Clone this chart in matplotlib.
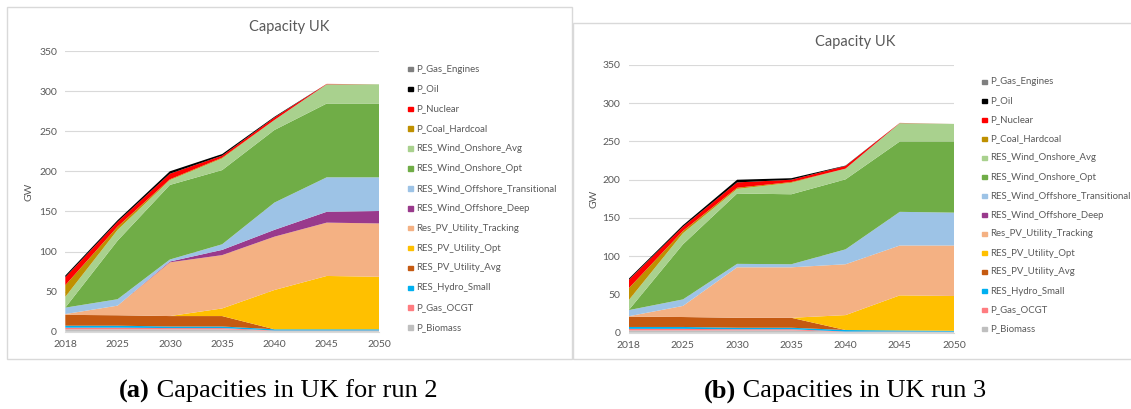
import numpy as np
import matplotlib
matplotlib.use('Agg')
import matplotlib.pyplot as plt
from matplotlib.patches import Rectangle

plt.rcParams['font.family'] = ['Lato', 'DejaVu Sans']

# =============================================================================
# Data (GW), stacked bottom -> top
# =============================================================================
years = ['2018', '2025', '2030', '2035', '2040', '2045', '2050']

names = ['P_Biomass', 'P_Gas_OCGT', 'RES_Hydro_Small', 'RES_PV_Utility_Avg',
         'RES_PV_Utility_Opt', 'Res_PV_Utility_Tracking', 'RES_Wind_Offshore_Deep',
         'RES_Wind_Offshore_Transitional', 'RES_Wind_Onshore_Opt',
         'RES_Wind_Onshore_Avg', 'P_Coal_Hardcoal', 'P_Nuclear', 'P_Oil',
         'P_Gas_Engines']
colors = ['#BFBFBF', '#FF7C80', '#00B0F0', '#C55A11', '#FFC000', '#F4B183',
          '#993A8C', '#9DC3E6', '#70AD47', '#A9D18E', '#BF9000', '#FF0000',
          '#000000', '#7F7F7F']

# run 2
r2_biomass   = [3, 3, 3, 3, 1, 1, 1]
r2_ocgt      = [2, 2, 1.5, 1.5, 0.5, 0.5, 0.5]
r2_hydro     = [2.5, 2.5, 2, 2, 1.5, 1.5, 1.5]
r2_pv_avg    = [13.5, 13, 13, 13, 0, 0, 0]
r2_pv_opt    = [0, 0, 0, 9.5, 49, 66.5, 65.5]
r2_pv_track  = [1, 12, 67, 66.5, 66.5, 66.5, 66.5]
r2_off_deep  = [0, 0, 1, 6.5, 8.5, 13.5, 15.5]
r2_off_trans = [8, 8, 2.5, 7, 34, 43, 42]
r2_on_opt    = [0, 73, 93, 92.5, 90.5, 92, 92]
r2_on_avg    = [13.5, 13.5, 6, 14.5, 12.5, 24, 24]
r2_coal      = [14.5, 4, 1, 1, 0, 0, 0]
r2_nuclear   = [10, 6, 7, 2.5, 3, 0.5, 0]
r2_oil       = [2, 2, 3, 2, 1, 0, 0]
r2_gas_eng   = [0, 0, 0, 0, 0, 0, 0]

# run 3
r3_biomass   = [3, 3, 3, 3, 1, 1, 1]
r3_ocgt      = [2, 2, 1.5, 1.5, 0.5, 0.5, 0.3]
r3_hydro     = [2.5, 2.5, 2, 2, 2, 1.5, 1.2]
r3_pv_avg    = [13.5, 13, 13, 13, 0, 0, 0]
r3_pv_opt    = [0, 0, 0, 0, 19.5, 45.8, 45.5]
r3_pv_track  = [0.5, 14.5, 66, 66, 66.5, 65.2, 66]
r3_off_deep  = [0, 0, 0, 0, 0, 0, 0]
r3_off_trans = [8, 8.5, 4.5, 4, 19.5, 44, 43]
r3_on_opt    = [0, 72, 92, 91.5, 91.5, 92, 93]
r3_on_avg    = [13, 14.5, 6, 15, 14, 24, 23]
r3_coal      = [15.5, 3, 1.5, 1, 0, 0, 0]
r3_nuclear   = [11, 5.5, 7, 3, 3.5, 0.3, 0]
r3_oil       = [1.5, 2, 3.5, 2, 0.5, 0, 0]
r3_gas_eng   = [0, 0, 0, 0, 0, 0, 0]

run2 = [r2_biomass, r2_ocgt, r2_hydro, r2_pv_avg, r2_pv_opt, r2_pv_track,
        r2_off_deep, r2_off_trans, r2_on_opt, r2_on_avg, r2_coal, r2_nuclear,
        r2_oil, r2_gas_eng]
run3 = [r3_biomass, r3_ocgt, r3_hydro, r3_pv_avg, r3_pv_opt, r3_pv_track,
        r3_off_deep, r3_off_trans, r3_on_opt, r3_on_avg, r3_coal, r3_nuclear,
        r3_oil, r3_gas_eng]

TXT = '#595959'
W, H = 1131, 409


def px(x, y):
    """pixel (top-left origin) -> figure fraction"""
    return x / W, 1 - y / H


def draw_panel(fig, rect, series, title_xy, gw_xy, leg_x, leg_y0, leg_dy):
    ax = fig.add_axes(rect)
    x = np.arange(len(years))
    ax.stackplot(x, *series, colors=colors, linewidth=0)
    ax.set_xlim(0, len(years) - 1)
    ax.set_ylim(0, 350)
    ax.set_yticks(range(0, 351, 50))
    ax.set_xticks(x)
    ax.set_xticklabels(years)
    ax.grid(axis='y', color='#D9D9D9', linewidth=0.8)
    ax.set_axisbelow(True)
    for s in ['top', 'right', 'left']:
        ax.spines[s].set_visible(False)
    ax.spines['bottom'].set_color('#D9D9D9')
    ax.tick_params(length=0, labelsize=7.5, colors=TXT, pad=6)
    ax.patch.set_alpha(0)
    fig.text(*px(*title_xy), 'Capacity UK', ha='center', va='center',
             fontsize=10.5, color=TXT)
    fig.text(*px(*gw_xy), 'GW', ha='center', va='center', rotation=90,
             fontsize=7.5, color=TXT)
    # legend, top entry = top of stack
    for i, k in enumerate(range(len(names) - 1, -1, -1)):
        yy = leg_y0 + i * leg_dy
        fx, fy = px(leg_x, yy + 2.3)
        fig.patches.append(Rectangle((fx, fy), 4.6 / W, 4.6 / H, color=colors[k],
                                     transform=fig.transFigure, figure=fig))
        fig.text(*px(leg_x + 8, yy), names[k], ha='left', va='center',
                 fontsize=6.9, color=TXT)
    return ax


fig = plt.figure(figsize=(W / 100, H / 100), dpi=100)

# panel frames
for (x0, y0, x1, y1) in [(7, 7, 572, 359), (573, 23, 1140, 359)]:
    fx0, fy1 = px(x0, y1)
    fw, fh = (x1 - x0) / W, (y1 - y0) / H
    fig.patches.append(Rectangle((fx0, fy1), fw, fh, fill=False,
                                 edgecolor='#D9D9D9', linewidth=1,
                                 transform=fig.transFigure, figure=fig))

draw_panel(fig, [65.3 / W, (H - 331.7) / H, (379 - 65.3) / W, 280.7 / H],
           run2, (289, 27), (29, 192), 408, 69, 19.9)
draw_panel(fig, [628.7 / W, (H - 332.7) / H, (954 - 628.7) / W, 267.7 / H],
           run3, (855, 42), (594, 199), 982, 82, 19.0)

# captions: bold sub-label + regular text
for cx, lab, rest in [(150, '(a)', ' Capacities in UK for run 2'),
                      (736, '(b)', ' Capacities in UK run 3')]:
    fig.text(*px(cx, 391), lab, ha='right', va='center', fontsize=19,
             family='Liberation Serif', weight='bold', color='black')
    fig.text(*px(cx, 391), rest, ha='left', va='center', fontsize=19,
             family='Liberation Serif', color='black')
fig.savefig('out.png', dpi=100)
